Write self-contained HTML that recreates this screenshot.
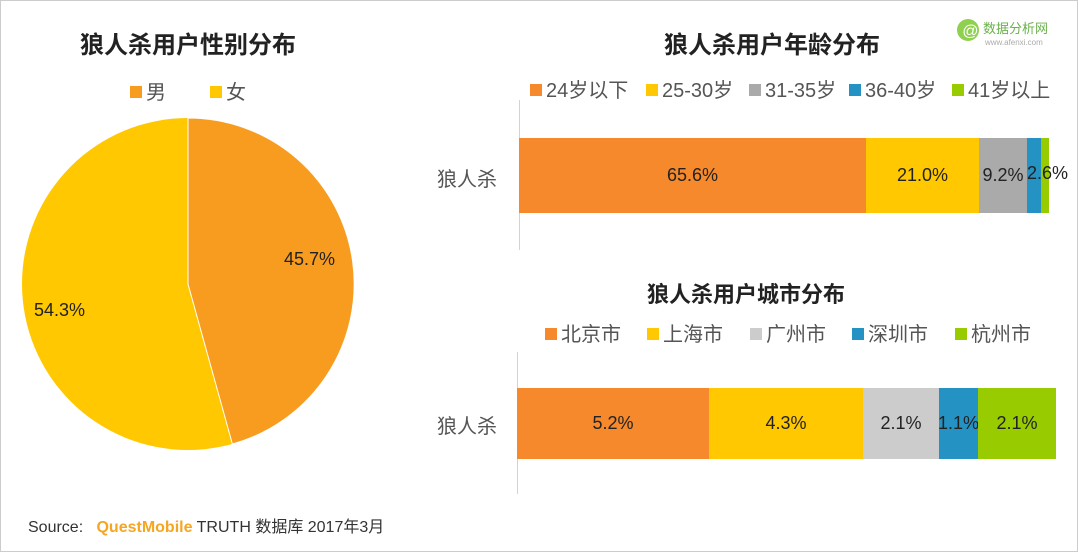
<!DOCTYPE html>
<html><head><meta charset="utf-8"><style>
body{margin:0;width:1078px;height:552px;background:#fff;position:relative;overflow:hidden;font-family:"Liberation Sans","Noto Sans CJK SC",sans-serif;}
.f{position:absolute;left:0;top:0;width:1076px;height:550px;border:1px solid #ccc;}
.t{position:absolute;font-weight:bold;font-size:24px;color:#222;white-space:nowrap;}
.lg{position:absolute;font-size:20px;color:#555;white-space:nowrap;}
.li{position:absolute;font-size:20px;color:#555;white-space:nowrap;line-height:24px;}
.sq{display:inline-block;width:12px;height:12px;margin-right:4px;vertical-align:1px;}
.seg{position:absolute;display:flex;align-items:center;justify-content:center;font-size:18px;color:#222;overflow:visible;white-space:nowrap;}
</style></head><body>
<div class="f"></div>
<div class="t" style="left:80px;top:25px">狼人杀用户性别分布</div>
<div class="lg" style="left:130px;top:76px"><span class="sq" style="background:#F89C1F"></span>男<span style="display:inline-block;width:44px"></span><span class="sq" style="background:#FFC800"></span>女</div>
<svg style="position:absolute;left:0;top:0" width="1078" height="552">
<circle cx="188" cy="284" r="166" fill="#FFC800"/>
<path d="M188 284 L188 118 A166 166 0 0 1 232.4 444 Z" fill="#F89C1F" stroke="#fff" stroke-width="1"/>
<text x="284" y="265" font-size="18" fill="#222" font-family="Liberation Sans">45.7%</text>
<text x="34" y="316" font-size="18" fill="#222" font-family="Liberation Sans">54.3%</text>
<line x1="519.5" y1="100" x2="519.5" y2="250" stroke="#d0d4da"/>
<line x1="517.5" y1="352" x2="517.5" y2="494" stroke="#d0d4da"/>
<circle cx="968" cy="30" r="11" fill="#8fd14f"/>
<text x="962" y="36" font-size="16" fill="#fff" font-style="italic">@</text>
<text x="983" y="33" font-size="13" fill="#6ab04c">数据分析网</text>
<text x="985" y="45" font-size="8" fill="#aaa">www.afenxi.com</text>
</svg>
<div class="t" style="left:664px;top:25px">狼人杀用户年龄分布</div>
<div class="li" style="left:530px;top:79px"><span class="sq" style="background:#F5892B"></span>24岁以下</div>
<div class="li" style="left:646px;top:79px"><span class="sq" style="background:#FFC800"></span>25-30岁</div>
<div class="li" style="left:749px;top:79px"><span class="sq" style="background:#aaa"></span>31-35岁</div>
<div class="li" style="left:849px;top:79px"><span class="sq" style="background:#2592C4"></span>36-40岁</div>
<div class="li" style="left:952px;top:79px"><span class="sq" style="background:#99CC00"></span>41岁以上</div>
<div class="lg" style="left:437px;top:163px">狼人杀</div>
<div class="seg" style="left:519px;top:138px;width:347px;height:75px;background:#F5892B">65.6%</div>
<div class="seg" style="left:866px;top:138px;width:113px;height:75px;background:#FFC800">21.0%</div>
<div class="seg" style="left:979px;top:138px;width:48px;height:75px;background:#aaa">9.2%</div>
<div class="seg" style="left:1027px;top:138px;width:14px;height:75px;background:#2592C4"></div>
<div class="seg" style="left:1041px;top:138px;width:8px;height:75px;background:#99CC00"></div>
<div style="position:absolute;left:1027px;top:163px;font-size:18px;color:#222">2.6%</div>
<div class="t" style="left:647px;top:277px;font-size:22px">狼人杀用户城市分布</div>
<div class="li" style="left:545px;top:323px"><span class="sq" style="background:#F5892B"></span>北京市</div>
<div class="li" style="left:647px;top:323px"><span class="sq" style="background:#FFC800"></span>上海市</div>
<div class="li" style="left:750px;top:323px"><span class="sq" style="background:#ccc"></span>广州市</div>
<div class="li" style="left:852px;top:323px"><span class="sq" style="background:#2592C4"></span>深圳市</div>
<div class="li" style="left:955px;top:323px"><span class="sq" style="background:#99CC00"></span>杭州市</div>
<div class="lg" style="left:437px;top:410px">狼人杀</div>
<div class="seg" style="left:517px;top:388px;width:192px;height:71px;background:#F5892B">5.2%</div>
<div class="seg" style="left:709px;top:388px;width:154px;height:71px;background:#FFC800">4.3%</div>
<div class="seg" style="left:863px;top:388px;width:76px;height:71px;background:#ccc">2.1%</div>
<div class="seg" style="left:939px;top:388px;width:39px;height:71px;background:#2592C4">1.1%</div>
<div class="seg" style="left:978px;top:388px;width:78px;height:71px;background:#99CC00">2.1%</div>
<div style="position:absolute;left:28px;top:513px;font-size:16px;color:#333;white-space:nowrap">Source: &nbsp;&nbsp;<b style="color:#F5A623">QuestMobile</b> TRUTH 数据库 2017年3月</div>
</body></html>
